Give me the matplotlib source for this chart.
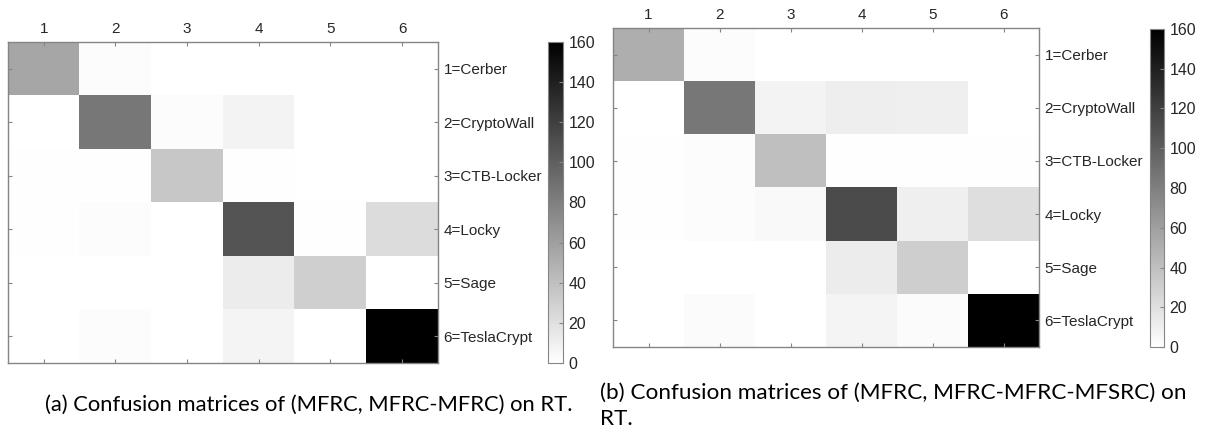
import numpy as np
import matplotlib
matplotlib.use("Agg")
import matplotlib.pyplot as plt
from matplotlib.colors import Normalize

W, H = 1208, 428

col_labels = ["1", "2", "3", "4", "5", "6"]
row_labels = ["1=Cerber", "2=CryptoWall", "3=CTB-Locker", "4=Locky", "5=Sage", "6=TeslaCrypt"]
cbar_ticks = [0, 20, 40, 60, 80, 100, 120, 140, 160]

cm_a = np.array([
    [56, 2, 0, 0, 0, 0],
    [0, 85, 2, 8, 0, 0],
    [1, 1, 35, 1, 0, 0],
    [1, 2, 0, 107, 1, 22],
    [0, 0, 0, 12, 30, 0],
    [0, 2, 0, 7, 0, 160],
])
cm_b = np.array([
    [51, 2, 0, 0, 0, 0],
    [0, 85, 8, 11, 10, 0],
    [1, 2, 40, 1, 1, 1],
    [1, 2, 4, 113, 10, 21],
    [0, 0, 0, 12, 31, 0],
    [0, 3, 0, 7, 3, 160],
])

caption_a = "(a) Confusion matrices of (MFRC, MFRC-MFRC) on RT."
caption_b = "(b) Confusion matrices of (MFRC, MFRC-MFRC-MFSRC) on\nRT."

plt.rcParams['font.family'] = ['Liberation Sans', 'DejaVu Sans']

fig = plt.figure(figsize=(W / 100, H / 100), dpi=100)


def ax_px(x0, y0, x1, y1):
    return fig.add_axes([x0 / W, 1 - y1 / H, (x1 - x0) / W, (y1 - y0) / H])


edge = "#858585"
norm = Normalize(vmin=0, vmax=160)
cmap = plt.get_cmap("gray_r")


def draw_panel(cm, box, cbox, ticksize=11):
    ax = ax_px(*box)
    im = ax.imshow(cm, cmap=cmap, norm=norm, aspect="auto", interpolation="nearest")
    ax.set_xticks(range(len(col_labels)))
    ax.set_xticklabels(col_labels)
    ax.set_yticks(range(len(row_labels)))
    ax.set_yticklabels(row_labels)
    ax.tick_params(axis="x", which="both", top=True, bottom=True, labeltop=True,
                   labelbottom=False, direction="in", length=3, width=0.8,
                   color=edge, labelsize=ticksize, pad=4, labelcolor="#262626")
    ax.tick_params(axis="y", which="both", left=True, right=True, labelleft=False,
                   labelright=True, direction="in", length=3, width=0.8,
                   color=edge, labelsize=ticksize, pad=4, labelcolor="#262626")
    for s in ax.spines.values():
        s.set_color(edge)
        s.set_linewidth(1.0)
    cax = ax_px(*cbox)
    cb = fig.colorbar(im, cax=cax, ticks=cbar_ticks)
    cb.outline.set_edgecolor(edge)
    cb.outline.set_linewidth(0.8)
    cax.tick_params(direction="in", length=3, width=0.8, color=edge,
                    labelsize=ticksize + 0.5, pad=4, labelcolor="#262626")
    return ax


draw_panel(cm_a, (8, 42, 438, 363), (548, 42, 563, 363))
draw_panel(cm_b, (613, 28, 1039, 347), (1150, 29, 1164, 347))

cap_font = ['Lato', 'DejaVu Sans']
fig.text(45 / W, 1 - 405 / H, caption_a, family=cap_font, fontsize=15.8,
         ha="left", va="center", color="black")
fig.text(600 / W, 1 - 406 / H, caption_b, family=cap_font, fontsize=16.2,
         ha="left", va="center", color="black", linespacing=1.4)

fig.savefig("out.png", dpi=100)
